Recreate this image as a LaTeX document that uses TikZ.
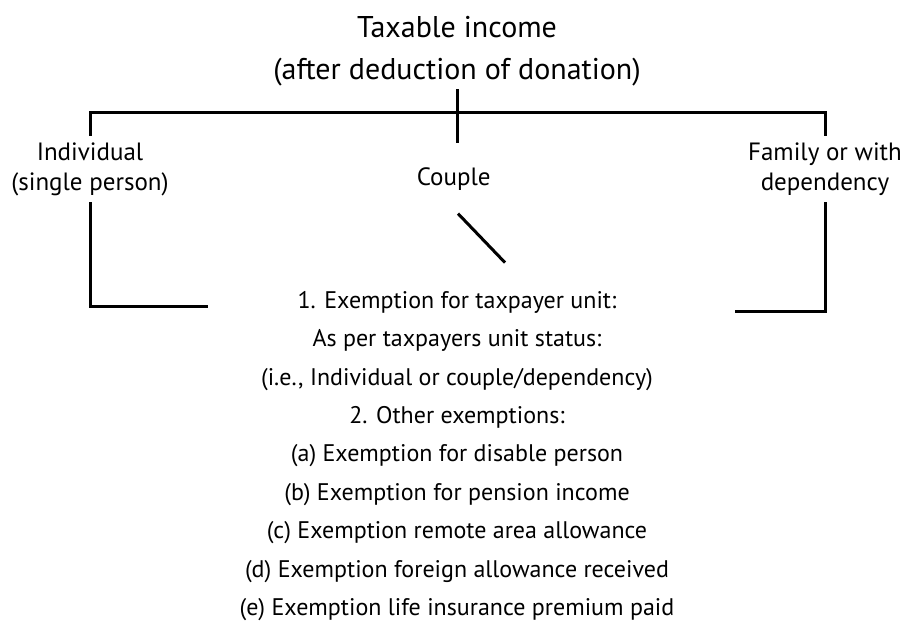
\documentclass[tikz,border=0pt]{standalone}
\usepackage{fontspec}
\setmainfont{PT Sans}
\usetikzlibrary{positioning,calc}
\tikzstyle{heading} = [ align=center, inner sep = 0pt, font=\fontsize{30}{42}\selectfont ]
\tikzstyle{unit} = [ align=center, inner xsep = 0pt, inner ysep = 6.5pt, font=\fontsize{25}{30}\selectfont ]
\tikzstyle{rules} = [ align=center, inner sep = 0pt, font=\fontsize{24}{38.4}\selectfont ]
\tikzstyle{edge} = [ line width = 3pt ]

\begin{document}
\begin{tikzpicture}[x=1pt, y=-1pt]
	\useasboundingbox (0,0) rectangle (903,621);

	\node[heading] (title) at ( 457, 51 ) { Taxable income \\ (after deduction of donation) };
	\node[unit] (indiv) at ( 90, 169 ) { Individual \\ (single person) };
	\node[unit, inner sep = 0pt] (couple) at ( 457, 179 ) { Couple };
	\node[unit] (family) at ( 825, 169 ) { Family or with \\ dependency };
	\node[rules] (exempt) at ( 457, 456 ) { 1. Exemption for taxpayer unit: \\ As per taxpayers unit status: \\ (i.e., Individual or couple/dependency) \\ 2. Other exemptions: \\ (a) Exemption for disable person \\ (b) Exemption for pension income \\ (c) Exemption remote area allowance \\ (d) Exemption foreign allowance received \\ (e) Exemption life insurance premium paid };

	\coordinate (bar) at ( 457, 112 );
	\coordinate (left end) at ( 208, 306 );
	\coordinate (right end) at ( 735, 311 );

	\draw[edge](indiv.north) |- (bar) -| (family.north);
	\draw[edge, shorten <= 3pt, shorten >= 24pt](title.south) -- (couple.north);
	\draw[edge](couple.south) ++(1, 23) -- ++(47, 49);
	\draw[edge](indiv.south) |- (left end);
	\draw[edge](family.south) |- (right end);
\end{tikzpicture}
\end{document}
